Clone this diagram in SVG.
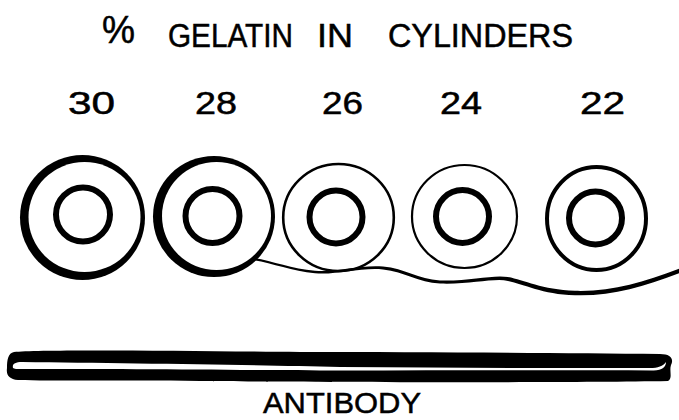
<svg xmlns="http://www.w3.org/2000/svg" width="679" height="420" viewBox="0 0 679 420">
<style>
.t{font-family:"Liberation Sans","DejaVu Sans",Arial,sans-serif;fill:#000;stroke:#000;stroke-width:0.5}
.ring{fill:none;stroke:#000}
.inner{fill:none;stroke:#000;stroke-width:6}
</style>
<rect width="679" height="420" fill="#fff"/>
<g id="title">
<text class="t" x="102" y="43" font-size="38" textLength="33" lengthAdjust="spacingAndGlyphs">%</text>
<text class="t" x="168" y="47" font-size="33" textLength="125" lengthAdjust="spacingAndGlyphs">GELATIN</text>
<text class="t" x="317" y="47" font-size="33" textLength="36" lengthAdjust="spacingAndGlyphs">IN</text>
<text class="t" x="388" y="47" font-size="33" textLength="185" lengthAdjust="spacingAndGlyphs">CYLINDERS</text>
</g>
<g id="labels">
<text class="t" x="68" y="114" font-size="31" textLength="47" lengthAdjust="spacingAndGlyphs">30</text>
<text class="t" x="195" y="114" font-size="31" textLength="42" lengthAdjust="spacingAndGlyphs">28</text>
<text class="t" x="322" y="114" font-size="31" textLength="41" lengthAdjust="spacingAndGlyphs">26</text>
<text class="t" x="440" y="114" font-size="31" textLength="42" lengthAdjust="spacingAndGlyphs">24</text>
<text class="t" x="580" y="114" font-size="31" textLength="45" lengthAdjust="spacingAndGlyphs">22</text>
</g>
<g id="connectors">
<path d="M253,257.8 C272,260.8 292,268.8 315,270.7 C336,272.7 360,264.7 383,266.6 C405,268.5 418,279.5 440,280.4 C470,281.3 494,274.2 508,277.1 C524,280 542,289.8 575,290.8 C612,291.8 642,282.8 679,268.8 L679,273.2 C642,287.2 612,296.2 575,295.2 C542,294.2 524,284 508,280.9 C494,277.8 470,284.7 440,283.6 C418,282.5 405,271.5 383,269.4 C360,267.3 336,275.3 315,273.3 C292,271.2 272,263.2 253,260.2 Z" fill="#000"/>
</g>
<g id="cyl30">
<ellipse cx="82.5" cy="217.5" rx="62.5" ry="62.5" fill="#000"/>
<ellipse cx="84.5" cy="217" rx="56" ry="55" fill="#fff"/>
<circle class="inner" cx="83" cy="214.5" r="27" stroke-width="6.5"/>
</g>
<g id="cyl28">
<ellipse cx="214" cy="216.5" rx="61" ry="60.5" fill="#000"/>
<ellipse cx="216.5" cy="216" rx="54.5" ry="54" fill="#fff"/>
<circle class="inner" cx="212.5" cy="216" r="27"/>
</g>
<g id="cyl26">
<ellipse class="ring" cx="338.5" cy="217.5" rx="55.3" ry="53.5" stroke-width="2.6"/>
<circle class="inner" cx="336" cy="217" r="26.5"/>
</g>
<g id="cyl24">
<ellipse class="ring" cx="464.5" cy="216.5" rx="52.5" ry="51.5" stroke-width="2.2"/>
<circle class="inner" cx="462.5" cy="216.5" r="26.5"/>
</g>
<g id="cyl22">
<ellipse class="ring" cx="596.5" cy="218.5" rx="49.5" ry="51.5" stroke-width="4"/>
<circle class="inner" cx="595.5" cy="218" r="26.5"/>
</g>
<g id="antibody">
<path d="M14,352 C40,349 200,351 300,352 C420,352 560,353 660,354 C671,354 674,359 671,365 C669,371 673,378 668,381 C560,383 300,382 200,381 C120,380 50,381 18,380 C9,379 6,375 7,368 C7,360 8,353 14,352 Z" fill="#000"/>
<path d="M13,368 C12,364 15,362 22,362 C120,363 250,365 340,367 C450,368 560,368 650,368 C658,368 663,366 666,362 C666,367 662,371 652,370.5 C560,370 450,370.5 340,370.5 C250,370 120,369 22,369 C17,369 14,369 13,368 Z" fill="#fff"/>
<text class="t" x="263" y="413" font-size="30" textLength="158" lengthAdjust="spacingAndGlyphs">ANTIBODY</text>
</g>
</svg>
